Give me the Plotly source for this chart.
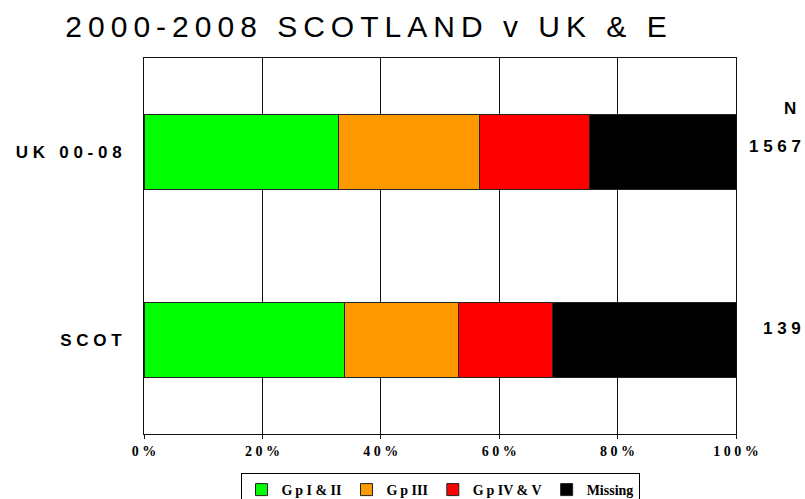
import plotly.graph_objects as go

# Share of cases by group (%), 2000-2008
categories = ["UK 00-08", "SCOT"]
counts_n = ["1567", "139"]
groups = ["Gp I & II", "Gp III", "Gp IV & V", "Missing"]
group_colors = ["#00FF00", "#FF9900", "#FF0000", "#000000"]
values = {
    "Gp I & II": [32.9, 33.8],
    "Gp III": [23.7, 19.4],
    "Gp IV & V": [18.7, 15.8],
    "Missing": [24.7, 31.0],
}
x_ticks = [0, 20, 40, 60, 80, 100]
title_text = "2000-2008 SCOTLAND v UK & E"

NB = "\u00a0"
THIN = "\u2009"


def spaced(s, gap=NB):
    """Widen text by putting a gap between every character."""
    return gap.join(ch if ch != " " else NB for ch in s)


SANS = "Liberation Sans, Arial, sans-serif"
SERIF = "Liberation Serif, Times New Roman, serif"

fig = go.Figure()
for g, c in zip(groups, group_colors):
    fig.add_trace(go.Bar(
        y=categories, x=values[g], name=g.replace("Gp", "G" + THIN + "p"),
        orientation="h",
        marker=dict(color=c, line=dict(color="#222222", width=1)),
        width=0.4,
    ))

# N column on the right
fig.add_annotation(text="N", xref="paper", yref="paper", x=(790 - 144) / 592,
                   y=(434 - 109) / 376, xanchor="center", yanchor="middle",
                   showarrow=False, font=dict(family=SANS, size=17, color="black", weight="bold"))
for cat, n, ypix in zip(categories, counts_n, [146, 328]):
    fig.add_annotation(text=spaced(n), xref="paper", yref="paper", x=(803 - 144) / 592,
                       y=(434 - ypix) / 376, xanchor="right", yanchor="middle",
                       showarrow=False, font=dict(family=SANS, size=17, color="black", weight="bold"))

fig.update_layout(
    width=805, height=499,
    margin=dict(l=144, r=69, t=58, b=65),
    barmode="stack",
    paper_bgcolor="white", plot_bgcolor="white",
    showlegend=True,
    title=dict(
        text=spaced(title_text, THIN),
        xref="container", yref="container",
        x=366 / 805, y=1 - 26 / 499, xanchor="center", yanchor="middle",
        font=dict(family=SANS, size=30, color="black"),
    ),
    legend=dict(
        orientation="h", xref="paper", yref="container",
        x=0.5, xanchor="center", y=1 - 473 / 499, yanchor="top",
        bordercolor="black", borderwidth=1, bgcolor="white",
        font=dict(family=SERIF, size=14, color="black", weight="bold"),
        itemwidth=30, tracegroupgap=0, traceorder="normal",
    ),
    font=dict(family=SANS, color="black"),
)

fig.update_xaxes(
    range=[0, 100], tickvals=x_ticks,
    ticktext=[spaced(f"{v}%") for v in x_ticks],
    showgrid=True, gridcolor="#111111", gridwidth=1,
    showline=True, linecolor="#111111", linewidth=1, mirror=True,
    ticks="outside", ticklen=4, tickcolor="#111111",
    tickfont=dict(family=SERIF, size=14, color="black", weight="bold"),
    zeroline=False, fixedrange=True,
)
fig.update_yaxes(
    categoryorder="array", categoryarray=categories[::-1],
    tickvals=categories, ticktext=[spaced(c) for c in categories],
    showgrid=False, showline=True, linecolor="#111111", linewidth=1, mirror=True,
    ticks="", ticklabelstandoff=18,
    tickfont=dict(family=SANS, size=17, color="black", weight="bold"),
    range=[-0.5, 1.5],
)

fig.write_html("out.html")
